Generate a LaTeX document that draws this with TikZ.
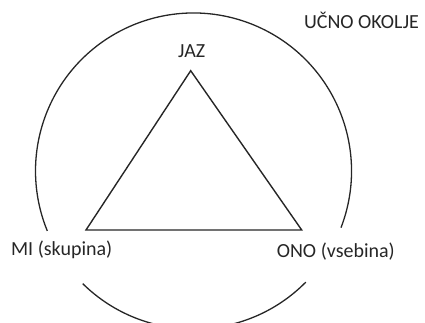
\documentclass[tikz,border=0pt]{standalone}
\usepackage{fontspec}
\setmainfont{Carlito}
\begin{document}
\begin{tikzpicture}[x=1pt,y=1pt,
  lbl/.style={anchor=base,inner sep=0pt,text=black!85,font=\fontsize{20}{24}\selectfont},
  ring/.style={draw=black!85,line width=1.3pt},
  tri/.style={draw=black!85,line width=1.4pt,line join=miter}]
\useasboundingbox (0,0) rectangle (425,322);
\coordinate (c) at (193.5,151);
\coordinate (top) at (190.7,251.3);
\coordinate (bl) at (86,92);
\coordinate (br) at (301.7,92);
\draw[tri] (top) -- (bl) -- (br) -- cycle;
\draw[ring] ([shift={(-21:158)}]c) arc[start angle=-21,end angle=202.3,radius=158];
\draw[ring] ([shift={(225.5:158)}]c) arc[start angle=225.5,end angle=315.3,radius=158];
\node[lbl] (jaz) at (191.7,264.7) {JAZ};
\node[lbl] (mi) at (61.7,67) {MI (skupina)};
\node[lbl] (ono) at (335.8,64.7) {ONO (vsebina)};
\node[lbl] (okolje) at (361.5,293.7) {UČNO OKOLJE};
\end{tikzpicture}
\end{document}
